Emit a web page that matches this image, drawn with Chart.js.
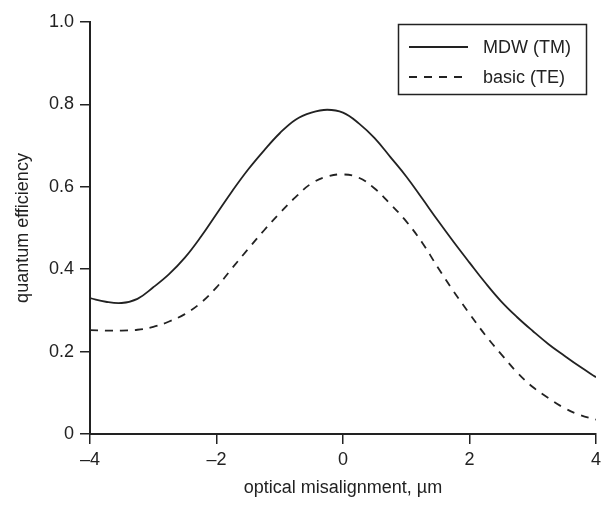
<!DOCTYPE html>
<html>
<head>
<meta charset="utf-8">
<script src="https://cdn.jsdelivr.net/npm/chart.js@4.4.0/dist/chart.umd.min.js"></script>
<style>
  html, body { margin: 0; padding: 0; background: #fff; }
  #wrap { width: 603px; height: 509px; }
</style>
</head>
<body>
<div id="wrap"><canvas id="chart" width="603" height="509"></canvas></div>
<script>
// misalignment positions (µm) and efficiency
const misalign = [-4, -3.75, -3.5, -3.25, -3, -2.75, -2.5, -2.25, -2, -1.75, -1.5, -1.25, -1, -0.75, -0.5, -0.25,
  0, 0.25, 0.5, 0.75, 1, 1.25, 1.5, 1.75, 2, 2.25, 2.5, 2.75, 3, 3.25, 3.5, 3.75, 4];
const mdwTM = [0.330, 0.321, 0.318, 0.328, 0.356, 0.388, 0.428, 0.478, 0.534, 0.590, 0.642, 0.688, 0.730, 0.763, 0.780, 0.787,
  0.780, 0.754, 0.718, 0.672, 0.625, 0.572, 0.518, 0.466, 0.416, 0.367, 0.322, 0.284, 0.250, 0.218, 0.190, 0.163, 0.138];
const basicTE = [0.252, 0.251, 0.251, 0.253, 0.260, 0.273, 0.291, 0.318, 0.356, 0.403, 0.449, 0.494, 0.536, 0.575, 0.608, 0.625,
  0.630, 0.622, 0.596, 0.558, 0.516, 0.465, 0.404, 0.346, 0.292, 0.240, 0.194, 0.150, 0.114, 0.087, 0.063, 0.046, 0.035];
const seriesLabels = ['MDW (TM)', 'basic (TE)'];
const xTicks = [-4, -2, 0, 2, 4];
const yTicks = [0, 0.2, 0.4, 0.6, 0.8, 1.0];

const INK = '#222';
const FONT = "'Liberation Sans', Arial, sans-serif";

const pts = ys => misalign.map((x, i) => ({ x, y: ys[i] }));

// legend drawn inside the plot, top right, boxed
const boxLegend = {
  id: 'boxLegend',
  afterDraw(chart) {
    const ctx = chart.ctx;
    ctx.save();
    ctx.strokeStyle = INK;
    ctx.lineWidth = 1.5;
    ctx.strokeRect(398.5, 24.5, 188, 70);
    chart.data.datasets.forEach((ds, i) => {
      const y = 47 + i * 30;
      ctx.beginPath();
      ctx.setLineDash(ds.borderDash || []);
      ctx.lineWidth = ds.borderWidth;
      ctx.moveTo(409, y);
      ctx.lineTo(468, y);
      ctx.stroke();
      ctx.setLineDash([]);
      ctx.fillStyle = INK;
      ctx.font = '18px ' + FONT;
      ctx.textBaseline = 'middle';
      ctx.fillText(ds.label, 483, y + 1);
    });
    ctx.restore();
  }
};

new Chart(document.getElementById('chart'), {
  type: 'line',
  data: {
    datasets: [
      { label: seriesLabels[0], data: pts(mdwTM), borderColor: INK, borderWidth: 1.8,
        pointRadius: 0, tension: 0.4, fill: false },
      { label: seriesLabels[1], data: pts(basicTE), borderColor: INK, borderWidth: 1.8, borderDash: [8, 7],
        pointRadius: 0, tension: 0.4, fill: false }
    ]
  },
  options: {
    responsive: false,
    animation: false,
    layout: { padding: { top: 22, right: 7, left: 0, bottom: 0 } },
    plugins: { legend: { display: false }, tooltip: { enabled: false } },
    scales: {
      x: {
        type: 'linear', min: -4, max: 4,
        afterBuildTicks: s => { s.ticks = xTicks.map(v => ({ value: v })); },
        afterFit: s => { s.height = 75; s.paddingLeft = 0; s.paddingRight = 0; },
        grid: { drawOnChartArea: false, drawTicks: true, tickLength: 10, color: INK, lineWidth: 1.5 },
        border: { color: INK, width: 2 },
        ticks: { color: INK, font: { family: FONT, size: 18 }, padding: 5,
          callback: v => (v < 0 ? '–' + Math.abs(v) : String(v)) },
        title: { display: true, text: 'optical misalignment, µm', color: INK,
          font: { family: FONT, size: 18 }, padding: { top: 0, bottom: 10 } }
      },
      y: {
        min: 0, max: 1,
        afterBuildTicks: s => { s.ticks = yTicks.map(v => ({ value: v })); },
        afterFit: s => { s.width = 90; },
        grid: { drawOnChartArea: false, drawTicks: true, tickLength: 10, color: INK, lineWidth: 1.5 },
        border: { color: INK, width: 2 },
        ticks: { color: INK, font: { family: FONT, size: 18 }, padding: 6,
          callback: v => (v === 0 ? '0' : v.toFixed(1)) },
        title: { display: true, text: 'quantum efficiency', color: INK,
          font: { family: FONT, size: 18 }, padding: { top: 12, bottom: 0 } }
      }
    }
  },
  plugins: [boxLegend]
});
</script>
</body>
</html>
